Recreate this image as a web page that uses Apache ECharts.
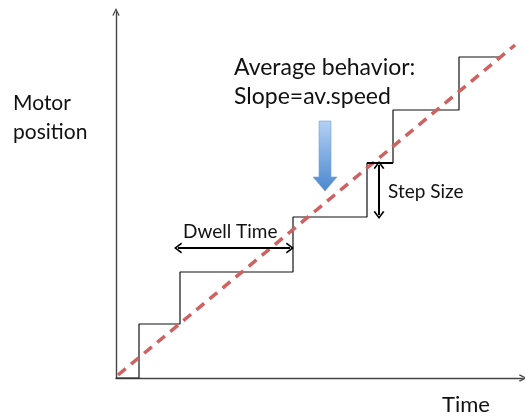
<!DOCTYPE html>
<html>
<head>
<meta charset="utf-8">
<script src="https://cdn.jsdelivr.net/npm/echarts@6/dist/echarts.min.js"></script>
<style>
  html, body { margin: 0; padding: 0; background: #fff; }
  #chart { width: 525px; height: 418px; }
</style>
</head>
<body>
<div id="chart"></div>
<script>
// staircase: time at which each step happens, and motor position after it
const stepTimes = [0, 23, 64, 177, 251, 277, 343, 384]
const stepPositions = [0, 54, 106, 161, 215, 268, 321, 321]

// average behaviour (dashed)
const avgTimes = [2, 399]
const avgPositions = [3, 333]

// annotation anchors (data units)
const dwellArrow = [[62, 130], [174, 130]]
const stepArrow = [[263, 213], [263, 163]]
const stepTop = [[251, 215], [277, 215]]
const blueArrowAt = [209, 222]

const chevron = 'path://M0,10 L5,0 L10,10 L8.6,11 L5,3.6 L1.4,11 Z'
const font = 'Lato, "Open Sans", sans-serif'

const chart = echarts.init(document.getElementById('chart'))

function label(text, x, y, size) {
  return {
    type: 'text', x, y,
    style: { text, font: size + 'px ' + font, fill: '#111', textVerticalAlign: 'middle' },
  }
}

chart.setOption({
  animation: false,
  grid: { left: 116, right: 2, top: 12, bottom: 40 },
  xAxis: {
    type: 'value', min: 0, max: 407,
    splitLine: { show: false },
    axisTick: { show: false },
    axisLabel: { show: false },
    axisLine: {
      show: true,
      symbol: ['none', chevron],
      symbolSize: [10, 8],
      lineStyle: { color: '#444', width: 1.4 },
    },
  },
  yAxis: {
    type: 'value', min: 0, max: 366,
    splitLine: { show: false },
    axisTick: { show: false },
    axisLabel: { show: false },
    axisLine: {
      show: true,
      symbol: ['none', chevron],
      symbolSize: [10, 8],
      lineStyle: { color: '#444', width: 1.4 },
    },
  },
  graphic: [
    label('Motor', 13, 103, 21),
    label('position', 13, 132, 21),
    label('Time', 442, 405, 22),
    label('Average behavior:', 234, 68, 23),
    label('Slope=av.speed', 234, 97, 23),
    label('Dwell Time', 183, 232, 19),
    label('Step Size', 388, 192, 19),
  ],
  series: [
    {
      type: 'line',
      step: 'end',
      data: stepTimes.map((t, i) => [t, stepPositions[i]]),
      symbol: 'none',
      lineStyle: { color: '#111', width: 1.2 },
      z: 3,
      markLine: {
        silent: true,
        symbol: [chevron, chevron],
        symbolSize: [11, 8],
        label: { show: false },
        lineStyle: { color: '#000', width: 2, type: 'solid' },
        data: [
          [{ coord: dwellArrow[0] }, { coord: dwellArrow[1] }],
          [{ coord: stepArrow[0] }, { coord: stepArrow[1] }],
          [{ coord: stepTop[0], symbol: 'none' }, { coord: stepTop[1], symbol: 'none' }],
        ],
      },
      markPoint: {
        silent: true,
        symbol: 'path://M6,0 L18,0 L18,56 L24,56 L12,70 L0,56 L6,56 Z',
        symbolSize: [24, 70],
        label: { show: false },
        itemStyle: {
          color: new echarts.graphic.LinearGradient(0, 0, 0, 1, [
            { offset: 0, color: '#b5d1f4' },
            { offset: 1, color: '#4a87cf' },
          ]),
          borderColor: '#6d9fd8',
          borderWidth: 0.5,
        },
        data: [{ coord: blueArrowAt }],
      },
    },
    {
      type: 'line',
      data: avgTimes.map((t, i) => [t, avgPositions[i]]),
      symbol: 'none',
      lineStyle: { color: '#d06161', width: 3.5, type: [10, 7] },
      z: 4,
    },
  ],
})
</script>
</body>
</html>
